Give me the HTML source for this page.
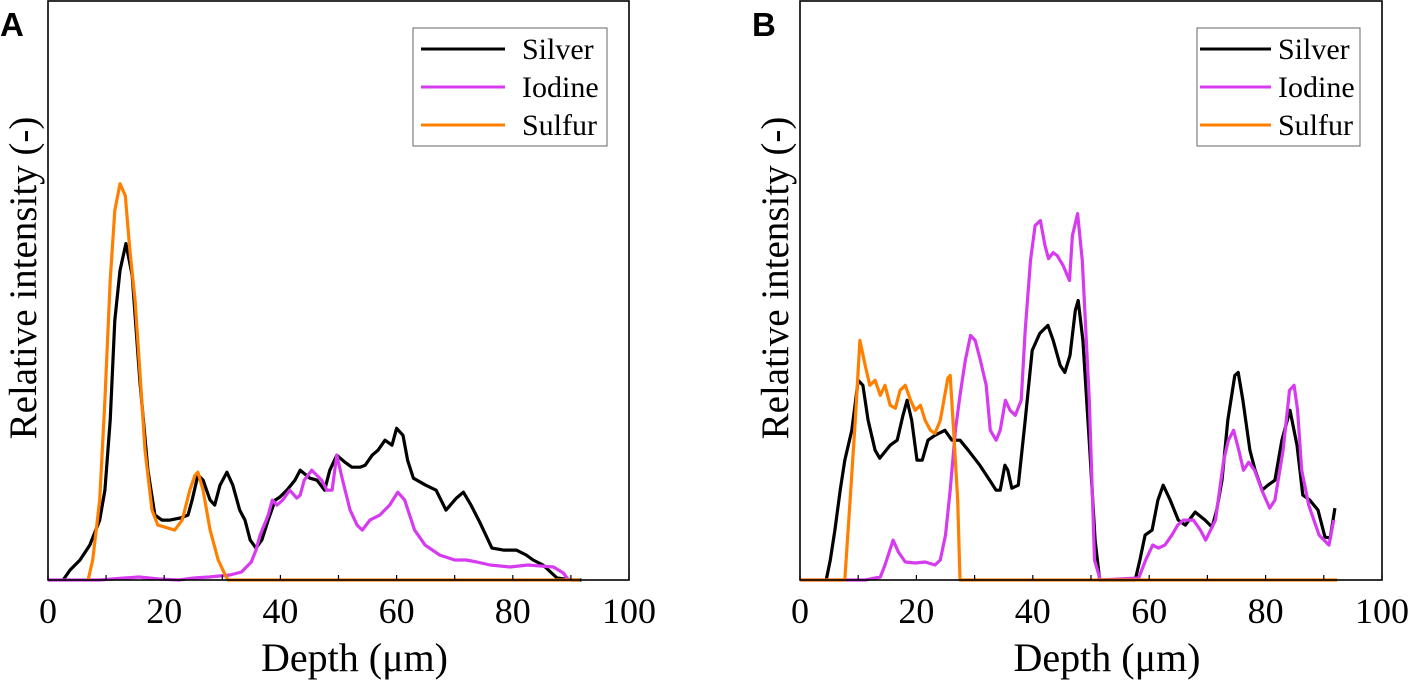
<!DOCTYPE html>
<html><head><meta charset="utf-8"><style>
html,body{margin:0;padding:0;background:#fff;}
svg{display:block;}
</style></head><body>
<svg id="svg" width="1413" height="685" viewBox="0 0 1413 685" xmlns="http://www.w3.org/2000/svg"></svg>
<script>
// Data: depth (µm) and relative intensity (0-580 scale)
const xTicks = [0, 20, 40, 60, 80, 100];
const seriesNames = ["Silver", "Iodine", "Sulfur"];
const seriesColors = ["#000000", "#d63bf0", "#ff8000"];
// Panel A
const aSilverX = [2.6,3.8,5.5,7.2,8.9,9.8,10.7,11.5,12.4,13.4,14.5,15.8,17.2,18.4,19.6,21,22.7,24.1,24.8,25.8,26.7,27.9,28.7,29.6,30.8,31.8,33,33.9,34.8,35.8,36.8,37.9,39.1,39.9,41.1,42.5,43.4,45.1,46.3,47.6,48.5,49.7,51.1,52.3,53.7,54.6,55.8,56.8,58,59.2,60,61.1,61.9,62.9,65,66.8,68.5,70.3,71.5,72.8,74.3,76.4,78.4,80.6,82.3,83.5,85.2,87.6,90.1,91.8];
const aSilverY = [0,10,20,35,60,90,160,260,310,337,305,200,110,65,60,60,62,65,80,105,100,80,75,95,108,95,70,60,40,32,40,60,80,83,90,100,110,102,100,90,110,125,118,113,113,115,125,130,140,135,152,145,120,102,95,90,70,82,88,75,58,32,30,30,25,20,15,2,0,0];
const aIodX = [0,8.9,13.2,15.7,19.1,22.5,25.1,27.7,31.3,33.3,35,35.8,36.5,37.9,38.6,39.4,40.4,41.6,42.8,43.4,44.1,45.4,47.1,48,48.9,49.7,50.7,52,53.2,54.1,55.4,57.1,58.8,60.2,61.4,63.1,64.9,67.4,70,72,73.8,76.1,79.5,82.6,87,88.7,89.6];
const aIodY = [0,0,2,3,1,0,2,3,5,8,18,30,45,65,80,75,80,90,82,85,100,110,100,90,90,125,100,70,55,50,60,65,75,88,80,50,35,25,20,20,18,15,13,15,13,7,0];
const aSulX = [6.9,7.7,8.9,9.8,10.7,11.5,12.4,13.3,14.1,15,15.8,16.7,17.9,18.9,20.1,21.8,23.1,24.4,25.3,25.8,26.7,27.9,29.3,30.5,31,91.6];
const aSulY = [0,20,80,180,300,370,397,385,330,280,210,130,70,55,53,50,60,90,105,108,90,50,20,5,0,0];
// Panel B
const bSilverX = [4.5,5.2,6,6.9,7.7,8.9,10,10.8,11.7,12.9,13.7,15.5,16.7,17.7,18.4,19.2,20.1,21,22,23.2,24.9,26.1,27.5,28.9,30.9,32.6,33.7,34.4,35.2,35.7,36.4,37.5,38.7,39.9,41.2,42.6,43.5,44.7,45.5,46.4,47.3,47.8,48.6,49.8,50.7,51.5,57.6,58.4,59.3,60.5,61.5,62.4,63.6,65,66.2,67.9,69.6,70.8,71.6,72.5,73.5,74.7,75.3,76.1,77.3,78.2,79.4,80.4,81.6,82.8,84.2,85.4,86.4,87.6,89,90.2,91.1,91.9];
const bSilverY = [0,20,50,90,120,150,200,195,160,130,122,135,140,165,180,160,120,120,140,145,150,140,140,130,115,100,90,90,115,110,92,95,160,230,247,255,240,215,208,225,270,280,240,130,40,0,0,20,45,50,80,95,80,60,55,68,60,53,70,100,160,205,208,180,130,110,90,95,100,140,170,135,85,80,70,43,42,72];
const bIodX = [0,11.2,13.8,14.6,16,16.9,18.1,19.8,21.5,23.2,24.1,25,25.8,26.7,27.5,28.4,29.3,30.1,31,32,32.7,33.7,34.4,35.3,36.1,37,38,38.7,39.6,40.4,41.3,42.1,42.7,43.5,44.2,45.2,46.3,46.8,47.7,48.5,49.7,50.6,51.6,58.2,59.4,60.6,61.6,62.7,63.9,64.9,65.9,67.6,68.8,69.7,71.4,72.8,73.6,74.5,75.4,76.2,77.1,78.1,79.5,80.7,81.6,83,84.1,84.9,85.5,86.2,87.4,89.2,90.9,91.7,92.9];
const bIodY = [0,0,3,15,40,28,18,17,18,15,20,45,90,150,185,220,245,240,220,195,150,140,150,180,170,165,180,250,320,355,360,335,322,328,325,315,300,345,367,320,180,20,0,2,20,35,32,35,45,55,60,60,50,40,60,120,140,150,130,110,118,110,88,72,80,130,190,195,170,110,75,45,35,60];
const bSulX = [0,7.7,8.6,9.5,10.3,11.2,12,12.9,13.8,14.6,15.5,16.4,17.2,18.1,19,19.8,20.7,21.5,22.4,23.2,24.1,25.4,25.8,26.5,27.1,27.5,92.3];
const bSulY = [0,0,80,160,240,215,195,200,185,195,175,172,190,195,180,170,175,160,150,147,160,202,205,140,80,0,0];

const svg = document.getElementById('svg');
const NS = 'http://www.w3.org/2000/svg';
function el(tag, attrs, parent) {
  const e = document.createElementNS(NS, tag);
  for (const k in attrs) e.setAttribute(k, attrs[k]);
  (parent || svg).appendChild(e);
  return e;
}
const plotTop = 1, plotBottom = 580, yMax = 580;
function yScale(v) { return plotBottom - v / yMax * (plotBottom - plotTop); }

function drawPanel(id, left, right, letter, data, legendX, lineX1, lineX2, textX) {
  const g = el('g', {});
  
  
  const xScale = d => left + d / 100 * (right - left);
  data.forEach((s, i) => {
    const pts = s.x.map((d, j) => xScale(d).toFixed(1) + ',' + yScale(s.y[j]).toFixed(1)).join(' ');
    const p = el('polyline', {points: pts, fill: 'none', stroke: seriesColors[i], 'stroke-width': 3.2, 'stroke-linejoin': 'round'}, g);
    
    
  });
  const fr = el('rect', {x: left, y: plotTop, width: right - left, height: plotBottom - plotTop, fill: 'none', stroke: '#000', 'stroke-width': 1.6}, g);
  
  
  for (let t = 0; t <= 100; t += 10) {
    const x = xScale(t);
    const tk = el('line', {x1: x, x2: x, y1: plotBottom, y2: plotBottom - 5, stroke: '#000', 'stroke-width': 1.2}, g);
    
    
  }
  xTicks.forEach(t => {
    const tl = el('text', {x: xScale(t), y: 623, 'text-anchor': 'middle', 'font-family': 'Liberation Serif, serif', 'font-size': 36}, g);
    tl.textContent = t;
    
    
  });
  const xl = el('text', {x: (left + right) / 2 + 16, y: 671, 'text-anchor': 'middle', 'font-family': 'Liberation Serif, serif', 'font-size': 40}, g);
  xl.textContent = 'Depth (μm)';
  
  
  const yl = el('text', {x: 0, y: 0, transform: 'translate(' + (left - 12) + ',278) rotate(-90)', 'text-anchor': 'middle', 'font-family': 'Liberation Serif, serif', 'font-size': 39}, g);
  yl.textContent = 'Relative intensity (-)';
  
  
  const pl = el('text', {x: left - 48, y: 36, 'font-family': 'Liberation Sans, sans-serif', 'font-size': 33, 'font-weight': 'bold'}, g);
  pl.textContent = letter;
  
  
  const lg = el('g', {}, g);
  
  
  el('rect', {x: legendX, y: 28, width: right - legendX - 22, height: 118, fill: '#fff', stroke: '#666', 'stroke-width': 1}, lg);
  seriesNames.forEach((n, i) => {
    const yy = 49 + i * 38;
    const en = el('g', {}, lg);
    
    
    el('line', {x1: lineX1, x2: lineX2, y1: yy, y2: yy, stroke: seriesColors[i], 'stroke-width': 3}, en);
    const t = el('text', {x: textX, y: yy + 10, 'font-family': 'Liberation Serif, serif', 'font-size': 30}, en);
    t.textContent = n;
  });
}
drawPanel('a', 48, 629, 'A', [{x: aSilverX, y: aSilverY}, {x: aIodX, y: aIodY}, {x: aSulX, y: aSulY}], 413, 421, 505, 522);
drawPanel('b', 800, 1382, 'B', [{x: bSilverX, y: bSilverY}, {x: bIodX, y: bIodY}, {x: bSulX, y: bSulY}], 1197, 1200, 1271, 1278);
</script>
</body></html>
